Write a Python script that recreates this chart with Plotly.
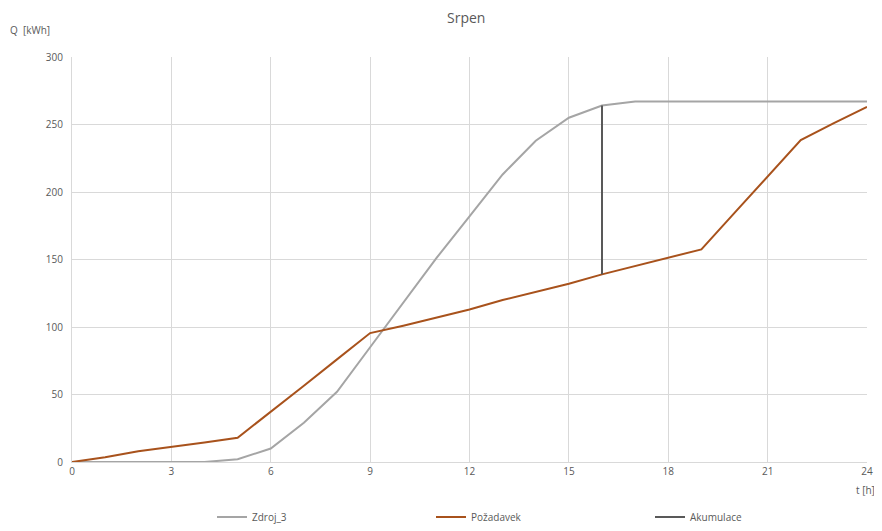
import plotly.graph_objects as go

hours = list(range(0, 25))
zdroj_3 = [0, 0, 0, 0, 0, 2, 10, 29, 52, 85, 118, 151, 182, 213, 238, 255, 264, 267,
           267, 267, 267, 267, 267, 267, 267]
pozadavek = [0, 3.5, 8, 11, 14.5, 18, 37, 56.5, 76, 95.5, 101, 107, 113, 120, 126, 132,
             139, 145, 151, 157.5, 184.5, 211.5, 238.5, 251, 263]
akumulace_t = [16, 16]
akumulace_q = [139, 264]

x_ticks = [0, 3, 6, 9, 12, 15, 18, 21, 24]
y_ticks = [0, 50, 100, 150, 200, 250, 300]

FONT = "Open Sans"
TXT = "#595959"

# page body has an 8px margin; size the figure so the plot lands where the reference is
W, H = 866, 523
ML, MR, MT, MB = 64, 7, 49, 69
PW = W - ML - MR  # 795
PH = H - MT - MB  # 405

fig = go.Figure()
fig.add_trace(go.Scatter(x=hours, y=zdroj_3, mode="lines", name="Zdroj_3",
                         line=dict(color="#A5A5A5", width=2)))
fig.add_trace(go.Scatter(x=hours, y=pozadavek, mode="lines", name="Požadavek",
                         line=dict(color="#A8521C", width=2)))
fig.add_trace(go.Scatter(x=akumulace_t, y=akumulace_q, mode="lines", name="Akumulace",
                         line=dict(color="#595959", width=2)))

fig.update_layout(
    width=W, height=H,
    margin=dict(l=ML, r=MR, t=MT, b=MB, autoexpand=False),
    paper_bgcolor="white", plot_bgcolor="white",
    font=dict(family=FONT, size=10, color=TXT),
    showlegend=True,
    legend=dict(orientation="h", x=140 / PW, xanchor="left",
                y=-(517 - 462) / PH, yanchor="middle",
                entrywidth=174, entrywidthmode="pixels",
                font=dict(family=FONT, size=10, color=TXT),
                itemwidth=30, bgcolor="rgba(0,0,0,0)"),
    xaxis=dict(range=[0, 24], tickvals=x_ticks, ticktext=[str(v) for v in x_ticks],
               showgrid=True, gridcolor="#D9D9D9", gridwidth=1,
               showline=True, linecolor="#D9D9D9", linewidth=1,
               zeroline=False, ticks="", tickfont=dict(size=10, color=TXT)),
    yaxis=dict(range=[0, 300], tickvals=y_ticks, ticktext=[str(v) for v in y_ticks],
               showgrid=True, gridcolor="#D9D9D9", gridwidth=1,
               showline=True, linecolor="#D9D9D9", linewidth=1,
               zeroline=False, ticks="", ticklabelstandoff=6,
               tickfont=dict(size=10, color=TXT)),
    annotations=[
        dict(text="Srpen", xref="paper", yref="paper",
             x=0.5 - 4 / PW, y=1 + (57 - 18) / PH, xanchor="center", yanchor="middle",
             showarrow=False, font=dict(family=FONT, size=14, color=TXT)),
        dict(text="Q  [kWh]", xref="paper", yref="paper",
             x=-(72 - 8) / PW, y=1 + (57 - 30) / PH, xanchor="left", yanchor="middle",
             showarrow=False, font=dict(family=FONT, size=10, color=TXT)),
        dict(text="t [h]", xref="paper", yref="paper",
             x=1 - 2 / PW, y=-(490 - 462) / PH, xanchor="center", yanchor="middle",
             showarrow=False, font=dict(family=FONT, size=10, color=TXT)),
    ],
)

fig.write_html("out.html")
